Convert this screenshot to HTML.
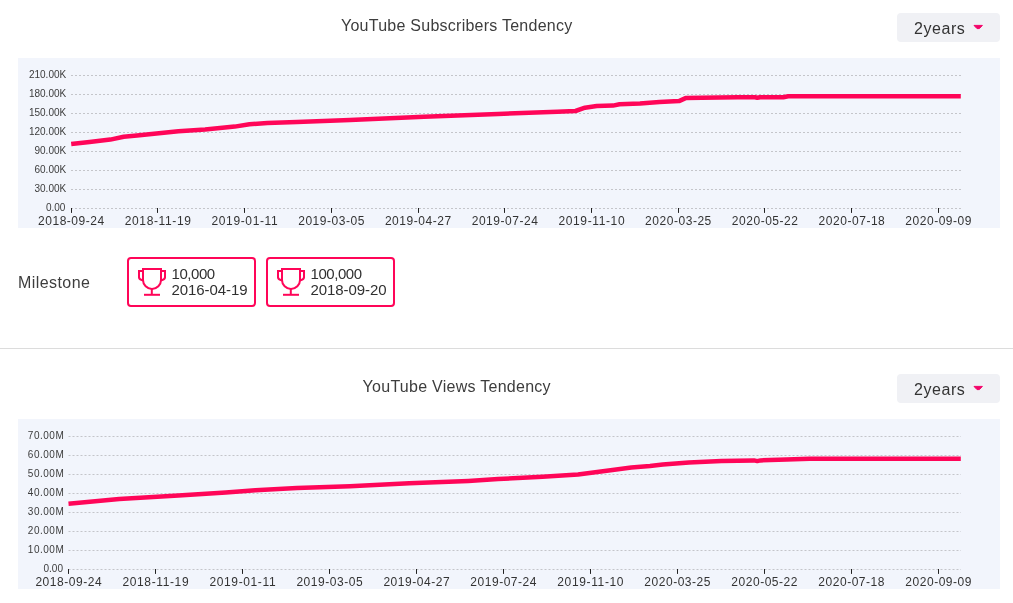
<!DOCTYPE html>
<html lang="en"><head><meta charset="utf-8"><title>YouTube Tendency</title>
<style>
html,body{margin:0;padding:0;background:#fff;}
body{width:1013px;height:603px;position:relative;overflow:hidden;font-family:"Liberation Sans",sans-serif;color:#3a3a3a;}
.title{position:absolute;left:0;width:913.5px;text-align:center;font-size:16px;line-height:20px;white-space:nowrap;color:#3d3d3d;}
.btn{position:absolute;left:897px;width:103px;height:29px;background:#f0f1f5;border-radius:4px;}
.btxt{position:absolute;left:17px;top:6px;font-size:16px;line-height:20px;letter-spacing:0.55px;color:#333;}
.caret{position:absolute;left:74px;top:9px;display:block;}
.chart{position:absolute;display:block;}
.mlabel{position:absolute;left:18px;top:273.3px;font-size:16px;line-height:20px;letter-spacing:0.43px;color:#3d3d3d;}
.mbox{position:absolute;top:257px;width:125px;height:46px;border:2px solid #ff0558;border-radius:4px;}
.mbox .trophy{position:absolute;left:8px;top:8px;}
.mbox .t1,.mbox .t2{position:absolute;left:42.5px;font-size:15px;line-height:16px;white-space:nowrap;color:#303030;}
.mbox .t1{top:6.5px;letter-spacing:-0.45px;}
.mbox .t2{top:22.5px;letter-spacing:-0.07px;}
.hr{position:absolute;left:0;top:348px;width:1013px;height:1px;background:#dcdcdc;}
</style></head><body>
<div class="title" style="top:16px;letter-spacing:0.25px">YouTube Subscribers Tendency</div>
<div class="btn" style="top:13px"><span class="btxt">2years</span><svg class="caret" width="14" height="9" viewBox="971 22 14 9"><path d="M974 25.4H982.4L979.4 28.6H977Z" fill="#f3056a" stroke="#f3056a" stroke-width="1" stroke-linejoin="round"/></svg></div>
<svg class="chart" style="left:18px;top:58px" width="982" height="170" viewBox="18 58 982 170">
<rect x="18" y="58" width="982" height="170" fill="#f2f5fc"/>
<g stroke="#c4c5ca" stroke-width="1" stroke-dasharray="2 2" fill="none">
<path d="M71 75.5H961"/>
<path d="M71 94.5H961"/>
<path d="M71 113.5H961"/>
<path d="M71 132.5H961"/>
<path d="M71 151.5H961"/>
<path d="M71 170.5H961"/>
<path d="M71 189.5H961"/>
<path d="M71 208.5H961"/>
</g>
<g font-family="'Liberation Sans',sans-serif" font-size="10" fill="#3c3c3c" text-anchor="end">
<text x="66.2" y="78.0">210.00K</text>
<text x="66.2" y="97.0">180.00K</text>
<text x="66.2" y="116.0">150.00K</text>
<text x="66.2" y="135.0">120.00K</text>
<text x="66.2" y="154.0">90.00K</text>
<text x="66.2" y="173.0">60.00K</text>
<text x="66.2" y="192.0">30.00K</text>
<text x="65.4" y="211.0">0.00</text>
</g>
<g stroke="#222" stroke-width="1">
<path d="M71.5 208.0V212.9"/>
<path d="M157.5 208.0V212.9"/>
<path d="M244.5 208.0V212.9"/>
<path d="M331.5 208.0V212.9"/>
<path d="M418.5 208.0V212.9"/>
<path d="M504.5 208.0V212.9"/>
<path d="M591.5 208.0V212.9"/>
<path d="M678.5 208.0V212.9"/>
<path d="M764.5 208.0V212.9"/>
<path d="M851.5 208.0V212.9"/>
<path d="M938.5 208.0V212.9"/>
</g>
<g font-family="'Liberation Sans',sans-serif" font-size="12" fill="#333" text-anchor="middle">
<text x="71.1" y="224.6" textLength="66.2" lengthAdjust="spacing">2018-09-24</text>
<text x="157.8" y="224.6" textLength="66.2" lengthAdjust="spacing">2018-11-19</text>
<text x="244.6" y="224.6" textLength="66.2" lengthAdjust="spacing">2019-01-11</text>
<text x="331.3" y="224.6" textLength="66.2" lengthAdjust="spacing">2019-03-05</text>
<text x="418.0" y="224.6" textLength="66.2" lengthAdjust="spacing">2019-04-27</text>
<text x="504.8" y="224.6" textLength="66.2" lengthAdjust="spacing">2019-07-24</text>
<text x="591.5" y="224.6" textLength="66.2" lengthAdjust="spacing">2019-11-10</text>
<text x="678.2" y="224.6" textLength="66.2" lengthAdjust="spacing">2020-03-25</text>
<text x="764.9" y="224.6" textLength="66.2" lengthAdjust="spacing">2020-05-22</text>
<text x="851.7" y="224.6" textLength="66.2" lengthAdjust="spacing">2020-07-18</text>
<text x="938.4" y="224.6" textLength="66.2" lengthAdjust="spacing">2020-09-09</text>
</g>
<path d="M71.2 144.1 L89.6 142.0 L110.3 139.6 L123.7 136.7 L137.0 135.5 L178.4 131.3 L205.1 129.5 L234.7 126.6 L249.5 124.2 L267.3 123.0 L296.9 121.9 L350.0 119.9 L424.0 116.7 L498.0 114.0 L557.3 111.7 L575.5 111.0 L585.0 107.7 L596.7 106.0 L613.0 105.6 L619.5 104.3 L640.0 103.6 L659.5 102.0 L679.0 101.1 L685.6 98.1 L701.9 97.8 L737.7 97.2 L755.0 97.2 L757.3 97.7 L760.0 97.2 L783.3 97.2 L788.2 96.3 L960.8 96.3" fill="none" stroke="#ff0558" stroke-width="4.5" stroke-linejoin="round"/>
</svg>
<div class="mlabel">Milestone</div>
<div class="mbox" style="left:127px"><svg class="trophy" width="30" height="30" viewBox="137 267 30 30"><g fill="none" stroke="#ff0558" stroke-width="2"><path d="M143 269H161V279.9a9 9 0 0 1 -18 0Z"/><path d="M151.8 288.5V294.8"/><path d="M144 294.8H160"/><path d="M143 271H139V277.4Q139.2 279.7 143 280.4"/><path d="M161 271H165V277.4Q164.8 279.7 161 280.4"/></g></svg><div class="t1">10,000</div><div class="t2">2016-04-19</div></div>
<div class="mbox" style="left:266px"><svg class="trophy" width="30" height="30" viewBox="137 267 30 30"><g fill="none" stroke="#ff0558" stroke-width="2"><path d="M143 269H161V279.9a9 9 0 0 1 -18 0Z"/><path d="M151.8 288.5V294.8"/><path d="M144 294.8H160"/><path d="M143 271H139V277.4Q139.2 279.7 143 280.4"/><path d="M161 271H165V277.4Q164.8 279.7 161 280.4"/></g></svg><div class="t1">100,000</div><div class="t2">2018-09-20</div></div>
<div class="hr"></div>
<div class="title" style="top:377px;letter-spacing:0.27px">YouTube Views Tendency</div>
<div class="btn" style="top:374px"><span class="btxt">2years</span><svg class="caret" width="14" height="9" viewBox="971 22 14 9"><path d="M974 25.4H982.4L979.4 28.6H977Z" fill="#f3056a" stroke="#f3056a" stroke-width="1" stroke-linejoin="round"/></svg></div>
<svg class="chart" style="left:18px;top:419px" width="982" height="170" viewBox="18 419 982 170">
<rect x="18" y="419" width="982" height="170" fill="#f2f5fc"/>
<g stroke="#c4c5ca" stroke-width="1" stroke-dasharray="2 2" fill="none">
<path d="M68.5 436.5H961"/>
<path d="M68.5 455.5H961"/>
<path d="M68.5 474.5H961"/>
<path d="M68.5 493.5H961"/>
<path d="M68.5 512.5H961"/>
<path d="M68.5 531.5H961"/>
<path d="M68.5 550.5H961"/>
<path d="M68.5 569.5H961"/>
</g>
<g font-family="'Liberation Sans',sans-serif" font-size="10" fill="#3c3c3c" text-anchor="end">
<text x="63.8" y="439.0" textLength="36.0" lengthAdjust="spacing">70.00M</text>
<text x="63.8" y="458.0" textLength="36.0" lengthAdjust="spacing">60.00M</text>
<text x="63.8" y="477.0" textLength="36.0" lengthAdjust="spacing">50.00M</text>
<text x="63.8" y="496.0" textLength="36.0" lengthAdjust="spacing">40.00M</text>
<text x="63.8" y="515.0" textLength="36.0" lengthAdjust="spacing">30.00M</text>
<text x="63.8" y="534.0" textLength="36.0" lengthAdjust="spacing">20.00M</text>
<text x="63.8" y="553.0" textLength="36.0" lengthAdjust="spacing">10.00M</text>
<text x="63.0" y="572.0">0.00</text>
</g>
<g stroke="#222" stroke-width="1">
<path d="M68.5 569.0V573.9"/>
<path d="M155.5 569.0V573.9"/>
<path d="M242.5 569.0V573.9"/>
<path d="M329.5 569.0V573.9"/>
<path d="M416.5 569.0V573.9"/>
<path d="M503.5 569.0V573.9"/>
<path d="M590.5 569.0V573.9"/>
<path d="M677.5 569.0V573.9"/>
<path d="M764.5 569.0V573.9"/>
<path d="M851.5 569.0V573.9"/>
<path d="M938.5 569.0V573.9"/>
</g>
<g font-family="'Liberation Sans',sans-serif" font-size="12" fill="#333" text-anchor="middle">
<text x="68.5" y="585.6" textLength="66.2" lengthAdjust="spacing">2018-09-24</text>
<text x="155.5" y="585.6" textLength="66.2" lengthAdjust="spacing">2018-11-19</text>
<text x="242.5" y="585.6" textLength="66.2" lengthAdjust="spacing">2019-01-11</text>
<text x="329.5" y="585.6" textLength="66.2" lengthAdjust="spacing">2019-03-05</text>
<text x="416.5" y="585.6" textLength="66.2" lengthAdjust="spacing">2019-04-27</text>
<text x="503.4" y="585.6" textLength="66.2" lengthAdjust="spacing">2019-07-24</text>
<text x="590.4" y="585.6" textLength="66.2" lengthAdjust="spacing">2019-11-10</text>
<text x="677.4" y="585.6" textLength="66.2" lengthAdjust="spacing">2020-03-25</text>
<text x="764.4" y="585.6" textLength="66.2" lengthAdjust="spacing">2020-05-22</text>
<text x="851.4" y="585.6" textLength="66.2" lengthAdjust="spacing">2020-07-18</text>
<text x="938.4" y="585.6" textLength="66.2" lengthAdjust="spacing">2020-09-09</text>
</g>
<path d="M68.5 503.8 L119.2 499.1 L178.4 495.5 L225.8 492.6 L255.4 490.2 L296.9 488.1 L350.0 486.2 L409.2 483.2 L468.4 480.9 L498.1 479.1 L542.5 476.7 L578.0 474.4 L610.6 470.2 L631.3 467.5 L650.0 466.1 L662.8 464.6 L688.9 462.4 L721.4 461.1 L754.0 460.4 L757.3 461.1 L760.5 460.4 L786.6 459.4 L809.4 458.8 L960.8 458.8" fill="none" stroke="#ff0558" stroke-width="4.5" stroke-linejoin="round"/>
</svg>
</body></html>
